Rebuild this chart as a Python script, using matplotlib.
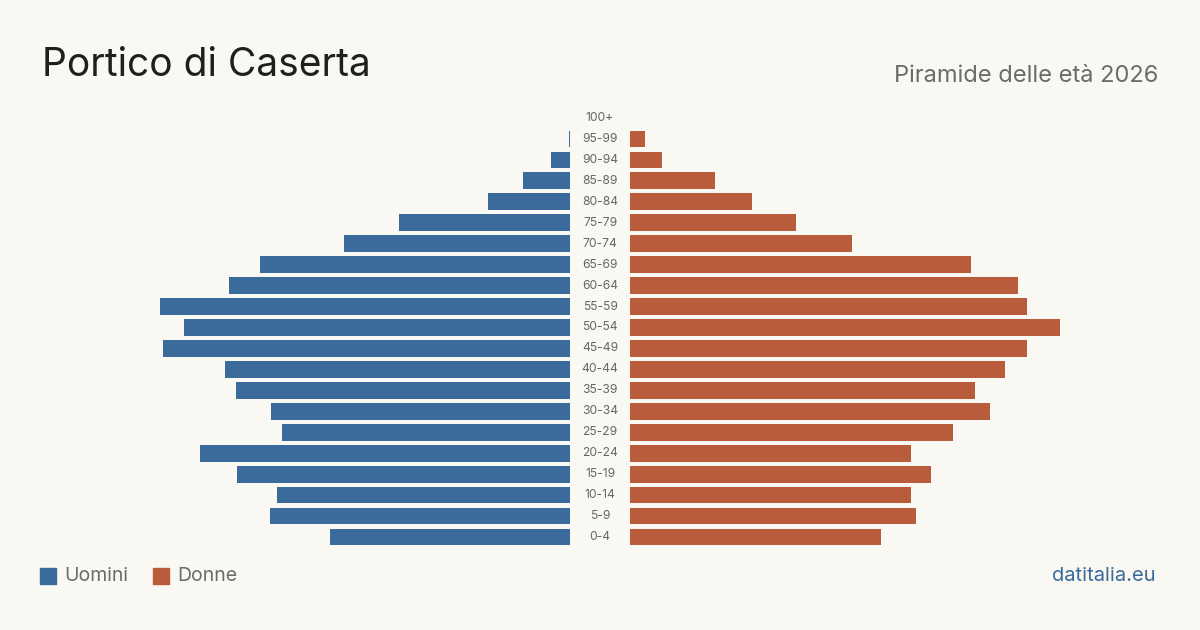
import matplotlib
matplotlib.use("Agg")
import matplotlib.pyplot as plt
from matplotlib.patches import Rectangle

age_groups = ["0-4", "5-9", "10-14", "15-19", "20-24", "25-29", "30-34", "35-39",
              "40-44", "45-49", "50-54", "55-59", "60-64", "65-69", "70-74", "75-79",
              "80-84", "85-89", "90-94", "95-99", "100+"]
men = [175, 219, 214, 243, 270, 210, 218, 244, 252, 297, 282, 299, 249, 226,
       165, 125, 60, 34, 14, 1, 0]
women = [183, 209, 205, 220, 205, 236, 263, 252, 274, 290, 314, 290, 283, 249,
         162, 121, 89, 62, 23, 11, 0]

title = "Portico di Caserta"
subtitle = "Piramide delle età 2026"
legend_labels = ["Uomini", "Donne"]
source = "datitalia.eu"

BG = "#f9f8f3"
BLUE = "#3b6b9b"
ORANGE = "#b95c3c"
FONT = ["Inter", "DejaVu Sans"]

plt.rcParams['font.family'] = FONT

W, H = 1200, 630
fig = plt.figure(figsize=(W / 100, H / 100), dpi=100, facecolor=BG)

px_per_unit = 1.37
half_w = 500
xmax = half_w / px_per_unit
bottom_px, top_px = 548, 107
ax_b = (H - bottom_px) / H
ax_h = (bottom_px - top_px) / H
ylim = (-0.525, 20.525)

axL = fig.add_axes([(570 - half_w) / W, ax_b, half_w / W, ax_h])
axR = fig.add_axes([630 / W, ax_b, half_w / W, ax_h])
ys = list(range(len(age_groups)))
axL.barh(ys, men, height=0.8, color=BLUE)
axR.barh(ys, women, height=0.8, color=ORANGE)
axL.set_xlim(xmax, 0)
axR.set_xlim(0, xmax)
for ax in (axL, axR):
    ax.set_ylim(*ylim)
    ax.axis("off")
    ax.set_facecolor("none")

# age labels in the gap
axlab = fig.add_axes([570 / W, ax_b, 60 / W, ax_h])
axlab.set_xlim(0, 1)
axlab.set_ylim(*ylim)
axlab.axis("off")
for y, lab in zip(ys, age_groups):
    axlab.text(0.5, y, lab, ha="center", va="center", fontsize=8.7, color="#666666")

fig.text(42 / W, 1 - 66 / H, title, fontsize=28, color="#1f1f1f", ha="left", va="center")
fig.text(1158 / W, 1 - 76 / H, subtitle, fontsize=17, color="#6b6b6b", ha="right", va="center")

# legend
for x0, col, lab in [(40, BLUE, legend_labels[0]), (153, ORANGE, legend_labels[1])]:
    fig.patches.append(Rectangle((x0 / W, 1 - 584 / H), 16 / W, 16 / H,
                                 transform=fig.transFigure, color=col))
    fig.text((x0 + 24) / W, 1 - 576 / H, lab, fontsize=14, color="#6b6b6b",
             ha="left", va="center")

fig.text(1156 / W, 1 - 576 / H, source, fontsize=14.5, color=BLUE, ha="right", va="center")

fig.savefig("out.png", dpi=100, facecolor=BG)
